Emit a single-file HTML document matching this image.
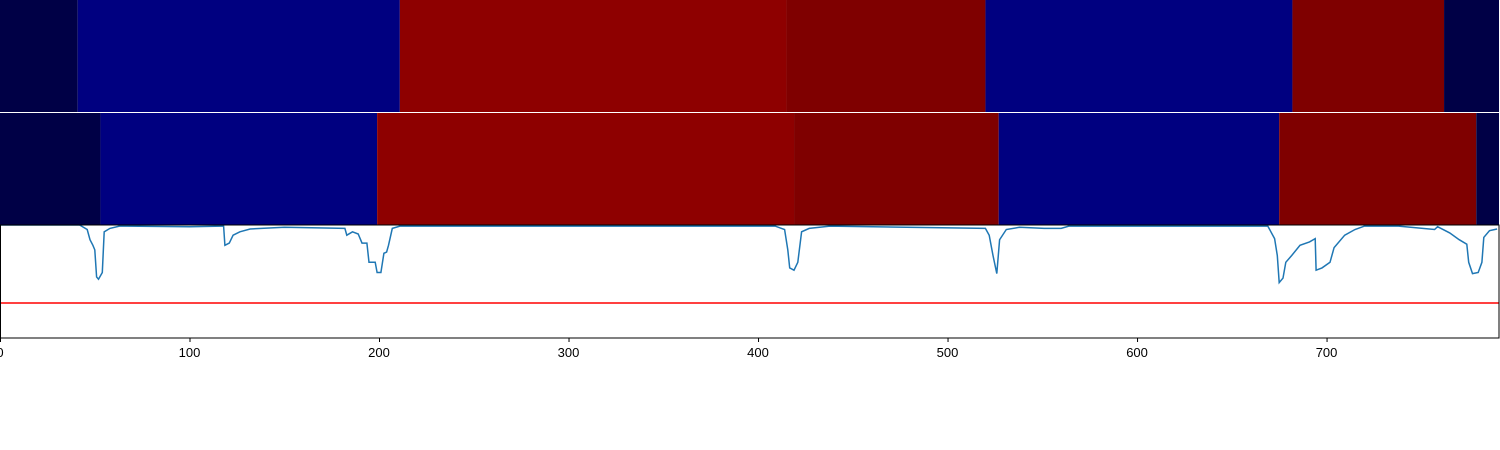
<!DOCTYPE html>
<html><head><meta charset="utf-8"><style>
html,body{margin:0;padding:0;background:#fff;}
svg{display:block;font-family:"Liberation Sans","DejaVu Sans",sans-serif;}
</style></head><body>
<svg id="chart" width="1500" height="450"></svg>
<script>
const row1Edges=[0,41,211,415,520,682,762,791];
const row1Colors=["#000046","#000080","#8e0000","#7f0000","#000080","#7f0000","#000046"];
const row2Edges=[0,53,199,419,527,675,779,791];
const row2Colors=["#000046","#000080","#8e0000","#7f0000","#000080","#7f0000","#000046"];
const lineX=[0,42,46,47.5,49,50,51,52,54,55,58,63,100,117,118,118.7,121,123,126.6,132,150,182,183,186,189,191,193.6,194.7,198,199,201,202.6,204,205,207,211,300,409,414,415.7,416.7,419,421,423,427,438,520,522,524,526,527.5,531,538,551,560,564,669,672.6,674,675,677,678.5,681.6,686,691,694,694.5,697.6,701.8,704,709.6,715,720,738,757,758.6,765,770,774,775,777,780,782,783,786,790];
const lineV=[1,1,0.96,0.87,0.82,0.78,0.54,0.52,0.58,0.94,0.97,0.99,0.985,0.99,0.99,0.82,0.84,0.91,0.94,0.965,0.98,0.97,0.91,0.94,0.92,0.84,0.84,0.67,0.67,0.58,0.58,0.75,0.76,0.82,0.97,0.99,0.99,0.99,0.96,0.78,0.62,0.6,0.67,0.94,0.97,0.99,0.97,0.91,0.73,0.57,0.87,0.96,0.98,0.97,0.97,0.99,0.99,0.88,0.73,0.49,0.53,0.67,0.73,0.82,0.85,0.88,0.6,0.62,0.67,0.8,0.91,0.96,0.99,0.99,0.96,0.985,0.93,0.87,0.83,0.67,0.57,0.58,0.67,0.89,0.95,0.965];
const threshold=[0.31];
const xTicks=[0,100,200,300,400,500,600,700];

const NS="http://www.w3.org/2000/svg";
const svg=document.getElementById('chart');
const X0=0,X1=1499,XMIN=0,XMAX=791;
const sx=v=>X0+(v-XMIN)/(XMAX-XMIN)*(X1-X0);
const AT=225,AB=338;
const sy=v=>AB-v*(AB-AT);
function mk(t,a){const e=document.createElementNS(NS,t);for(const k in a)e.setAttribute(k,a[k]);svg.appendChild(e);return e;}

function drawRow(edges,colors,top,h,name){
  for(let i=0;i<colors.length;i++){
    const r=mk('rect',{x:sx(edges[i]),y:top,width:sx(edges[i+1])-sx(edges[i]),height:h,fill:colors[i]});
    
    
  }
}
// clip
const defs=mk('defs',{});
const cp=document.createElementNS(NS,'clipPath');cp.setAttribute('id','clip');
const cr=document.createElementNS(NS,'rect');cr.setAttribute('x',0);cr.setAttribute('y',AT);cr.setAttribute('width',1500);cr.setAttribute('height',AB-AT);
cp.appendChild(cr);defs.appendChild(cp);

let d='';
for(let i=0;i<lineX.length;i++){d+=(i?'L':'M')+sx(lineX[i]).toFixed(1)+','+sy(lineV[i]).toFixed(1);}
const ln=mk('path',{d:d,fill:'none',stroke:'#1f77b4','stroke-width':1.5,'clip-path':'url(#clip)'});


const th=mk('line',{x1:sx(XMIN),x2:sx(XMAX),y1:sy(threshold[0]),y2:sy(threshold[0]),stroke:'#ff0000','stroke-width':1.5});



drawRow(row1Edges,row1Colors,0,112,'top-heatmap');
drawRow(row2Edges,row2Colors,113,112,'middle-heatmap');

const frame=mk('rect',{x:0.5,y:AT,width:1498.5,height:AB-AT,fill:'none',stroke:'#000','stroke-width':1});



xTicks.forEach(t=>{
  const tk=mk('line',{x1:sx(t)+0.5,x2:sx(t)+0.5,y1:AB,y2:AB+4,stroke:'#000','stroke-width':1});
  
  
  const tx=mk('text',{x:sx(t),y:AB+19,'font-size':13,'text-anchor':'middle',fill:'#000'});
  tx.textContent=t;
  
  
});
</script>
</body></html>
